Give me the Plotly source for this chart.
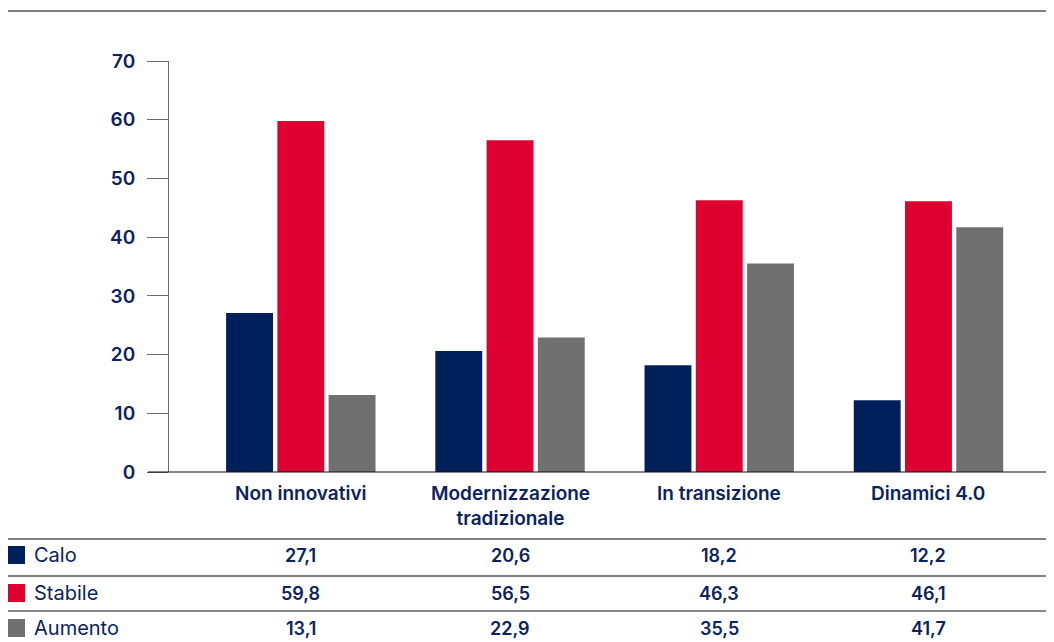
import plotly.graph_objects as go

categories = ["Non innovativi", "Modernizzazione<br>tradizionale", "In transizione", "Dinamici 4.0"]
series_names = ["Calo", "Stabile", "Aumento"]
calo = [27.1, 20.6, 18.2, 12.2]
stabile = [59.8, 56.5, 46.3, 46.1]
aumento = [13.1, 22.9, 35.5, 41.7]
value_labels = {
    "Calo": ["27,1", "20,6", "18,2", "12,2"],
    "Stabile": ["59,8", "56,5", "46,3", "46,1"],
    "Aumento": ["13,1", "22,9", "35,5", "41,7"],
}
y_ticks = [0, 10, 20, 30, 40, 50, 60, 70]

colors = ["#00205b", "#de0030", "#707070"]
navy = "#0b2260"
FONT = "Inter"

OFF = 8  # page body margin
W, H = 1054 - OFF, 642 - OFF
L, T = 169 - OFF, 61 - OFF
B = 642 - 472
plot_h = H - T - B  # 411
plot_w = W - L


def py(p):
    return (472 - p) / plot_h


def px(p):
    return (p - 169) / plot_w


xs = list(range(len(categories)))
fig = go.Figure()
for name, vals, c in zip(series_names, [calo, stabile, aumento], colors):
    fig.add_trace(go.Bar(x=xs, y=vals, name=name, marker=dict(color=c, line=dict(width=0)),
                         showlegend=False, hoverinfo="y+name"))

fig.update_layout(
    width=W, height=H,
    margin=dict(l=L, r=0, t=T, b=B, autoexpand=False),
    paper_bgcolor="white", plot_bgcolor="white",
    barmode="group", bargap=0.265, bargroupgap=0.085,
    font=dict(family=FONT, color=navy),
    xaxis=dict(range=[-0.63, 3.6], showticklabels=False, showgrid=False, zeroline=False,
               showline=False, ticks=""),
    yaxis=dict(range=[0, 70], tickvals=y_ticks, showgrid=False, zeroline=False,
               showline=True, linecolor="#6b6b6b", linewidth=1,
               ticks="outside", ticklen=21, tickcolor="#6b6b6b", tickwidth=1,
               tickfont=dict(family=FONT, size=19, color=navy, weight=600),
               ticklabelstandoff=8),
)

shapes = []
shapes.append(dict(type="line", xref="paper", yref="paper", x0=px(7), x1=px(1054), y0=py(11), y1=py(11),
                   line=dict(color="#555555", width=1.5)))
shapes.append(dict(type="line", xref="paper", yref="paper", x0=px(148), x1=px(1054), y0=py(472), y1=py(472),
                   line=dict(color="#111111", width=1.2)))
shapes.append(dict(type="line", xref="paper", yref="paper", x0=px(7), x1=px(1054), y0=py(539), y1=py(539),
                   line=dict(color="#808080", width=2)))
shapes.append(dict(type="line", xref="paper", yref="paper", x0=px(7), x1=px(1054), y0=py(576), y1=py(576),
                   line=dict(color="#808080", width=2)))
shapes.append(dict(type="line", xref="paper", yref="paper", x0=px(7), x1=px(1054), y0=py(611), y1=py(611),
                   line=dict(color="#111111", width=1)))

row_centers = [555, 593, 628]
for rc, c in zip(row_centers, colors):
    shapes.append(dict(type="rect", xref="paper", yref="paper", x0=px(6), x1=px(25),
                       y0=py(rc - 9), y1=py(rc + 9), fillcolor=c, line=dict(width=0)))

annotations = []
for i, cat in enumerate(categories):
    annotations.append(dict(x=i, xref="x", y=py(480), yref="paper", text=cat, showarrow=False,
                            xanchor="center", yanchor="top", align="center",
                            font=dict(family=FONT, size=19, color=navy, weight=600)))
for rc, name in zip(row_centers, series_names):
    annotations.append(dict(x=px(32), xref="paper", y=py(rc), yref="paper", text=name, showarrow=False,
                            xanchor="left", yanchor="middle",
                            font=dict(family=FONT, size=20, color=navy, weight=400)))
    for i, v in enumerate(value_labels[name]):
        annotations.append(dict(x=i, xref="x", y=py(rc), yref="paper", text=v, showarrow=False,
                                xanchor="center", yanchor="middle",
                                font=dict(family=FONT, size=18, color=navy, weight=600)))

fig.update_layout(shapes=shapes, annotations=annotations)
fig.write_html("out.html")
